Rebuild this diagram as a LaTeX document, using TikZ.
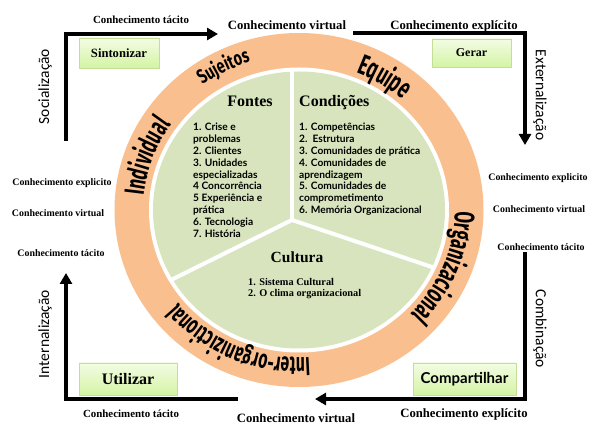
\documentclass[tikz,border=0pt]{standalone}
\usepackage{fontspec}
\setmainfont{Liberation Serif}
\newfontfamily\listfont{Lato}
\newfontfamily\ringfont[FakeStretch=0.6]{Fira Sans}
\newfontfamily\ringfontb[FakeStretch=0.72]{Fira Sans}
\newfontfamily\sidefont{Carlito}
\usetikzlibrary{arrows.meta,decorations.text,shadows}
\definecolor{ringorange}{RGB}{250,191,143}
\definecolor{sectgreen}{RGB}{215,228,189}
\definecolor{boxtop}{RGB}{243,252,228}
\definecolor{boxbot}{RGB}{212,244,164}
\definecolor{boxline}{RGB}{196,222,150}
\newcommand{\fsz}[1]{\fontsize{#1}{#1}\selectfont}
\begin{document}
\begin{tikzpicture}[x=1pt,y=1pt,
  flow/.style={line width=4pt, line join=miter},
  flowarrow/.style={flow, -{Triangle[length=11pt,width=12pt]}},
  knbig/.style={font=\bfseries\fsz{12.7}, inner sep=0pt, anchor=base},
  knmid/.style={font=\bfseries\fsz{10.9}, inner sep=0pt, anchor=base},
  knsmall/.style={font=\bfseries\fsz{9.9}, inner sep=0pt, anchor=base},
  phase/.style={font=\sidefont\fsz{15.5}, inner sep=0pt, anchor=center},
  actbox/.style={draw=boxline, line width=0.6pt, top color=boxtop, bottom color=boxbot,
    drop shadow={shadow xshift=1.2pt, shadow yshift=-1.2pt, opacity=0.35},
    inner sep=0pt, font=\bfseries},
  head/.style={font=\bfseries\fsz{16}, inner sep=0pt},
  listtxt/.style={font=\listfont\bfseries\fontsize{10.2}{11.8}\selectfont, align=left, anchor=north west, inner sep=0pt},
  cultxt/.style={font=\bfseries\fontsize{10.3}{11.6}\selectfont, align=left, anchor=north west, inner sep=0pt},
]
\useasboundingbox (0,0) rectangle (600,-438);
\fill[white] (0,0) rectangle (600,-438);

% ring and disk
\coordinate (C) at (299,-210);
\fill[ringorange] (C) ellipse [x radius=184.5pt, y radius=177pt];
\fill[white] (C) ellipse [x radius=150pt, y radius=142.5pt];
\fill[sectgreen] (C) ellipse [x radius=146pt, y radius=138.5pt];

% dividers
\coordinate (D) at (292,-220);
\coordinate (Dtop) at (292,-40);
\coordinate (Dleft) at (119.5,-305.5);
\coordinate (Dright) at (502,-290.5);
\begin{scope}
\clip (C) ellipse [x radius=149pt, y radius=141.5pt];
\draw[white, line width=4pt] (D) -- (Dtop);
\draw[white, line width=4pt] (D) -- (Dleft);
\draw[white, line width=4pt] (D) -- (Dright);
\end{scope}

% ring labels
\path[shift={(299,-210)}, decorate, decoration={text along path, text align=center,
  text={|\ringfontb\bfseries\fsz{20}|Sujeitos}}]
  (150:164pt and 155pt) arc[start angle=150, end angle=84, x radius=164pt, y radius=155pt];
\path[shift={(299,-210)}, decorate, decoration={text along path, text align=center,
  text={|\ringfont\bfseries\fsz{28.5}|Equipe}}]
  (92:156pt and 148pt) arc[start angle=92, end angle=24, x radius=156pt, y radius=148pt];
\path[shift={(299,-210)}, decorate, decoration={text along path, text align=center,
  text={|\ringfont\bfseries\fsz{28}|Individual}}]
  (200:156pt and 148pt) arc[start angle=200, end angle=120, x radius=156pt, y radius=148pt];
\path[shift={(299,-210)}, decorate, decoration={text along path, text align=center,
  text={|\ringfont\bfseries\fsz{28}|Organizacional}}]
  (25:156pt and 148pt) arc[start angle=25, end angle=-69, x radius=156pt, y radius=148pt];
\path[shift={(299,-210)}, decorate, decoration={text along path, text align=center,
  text={|\ringfont\bfseries\fsz{26}|Inter-organizictional}}]
  (-60:156pt and 148pt) arc[start angle=-60, end angle=-168, x radius=156pt, y radius=148pt];

% sector texts
\node[head, anchor=base] (fontes) at (250,-107) {Fontes};
\node[head, anchor=base west] (condicoes) at (299,-107) {Condições};
\node[head, anchor=base, font=\bfseries\fsz{15.5}] (cultura) at (297,-263) {Cultura};
\node[listtxt] (fontlist) at (193,-123.2) {1. Crise e\\problemas\\2. Clientes\\3. Unidades\\especializadas\\4 Concorrência\\5 Experiência e\\prática\\6. Tecnologia\\7. História};
\node[listtxt] (condlist) at (299,-123.2) {1. Competências\\2.\ \ Estrutura\\3. Comunidades de prática\\4. Comunidades de\\aprendizagem\\5. Comunidades de\\comprometimento\\6. Memória Organizacional};
\node[cultxt] (cultlist) at (248,-277.8) {1. Sistema Cultural\\2. O clima organizacional};

% action boxes
\node[actbox, minimum width=80pt, minimum height=30pt, font=\bfseries\fsz{12.6}] (sint) at (119,-53) {Sintonizar};
\node[actbox, minimum width=79pt, minimum height=28pt, font=\bfseries\fsz{12}] (gerar) at (471.5,-53) {Gerar};
\node[actbox, minimum width=98pt, minimum height=32pt, font=\bfseries\fsz{16}] (util) at (128,-379) {Utilizar};
\node[actbox, minimum width=103pt, minimum height=32pt, font=\listfont\bfseries\fsz{15}] (comp) at (464.5,-379) {Compartilhar};

% flow arrows
\coordinate (a1s) at (66,-141);
\coordinate (a1c) at (66,-34);
\coordinate (a1e) at (218,-34);
\draw[flowarrow] (a1s) -- (a1c) -- (a1e);
\coordinate (a2s) at (353,-33);
\coordinate (a2c) at (525,-33);
\coordinate (a2e) at (525,-145);
\draw[flowarrow] (a2s) -- (a2c) -- (a2e);
\coordinate (a3s) at (525,-252);
\coordinate (a3c) at (525,-399);
\coordinate (a3e) at (315,-399);
\draw[flowarrow] (a3s) -- (a3c) -- (a3e);
\coordinate (a4s) at (238,-399);
\coordinate (a4c) at (66,-399);
\coordinate (a4e) at (66,-273);
\draw[flowarrow] (a4s) -- (a4c) -- (a4e);

% phase labels
\node[phase, rotate=90] (soc) at (45,-86.5) {Socialização};
\node[phase, rotate=-90] (ext) at (540,-95) {Externalização};
\node[phase, rotate=-90] (comb) at (540,-329) {Combinação};
\node[phase, rotate=90] (intl) at (45,-334) {Internalização};

% knowledge labels
\node[knmid] (k1) at (141,-23.5) {Conhecimento tácito};
\node[knbig] (k2) at (287,-30) {Conhecimento virtual};
\node[knbig] (k3) at (454,-30) {Conhecimento explícito};
\node[knsmall] (k4) at (62,-185.5) {Conhecimento explicito};
\node[knsmall] (k5) at (58,-216.5) {Conhecimento virtual};
\node[knsmall] (k6) at (61,-256.5) {Conhecimento tácito};
\node[knsmall] (k7) at (538,-180.5) {Conhecimento explicito};
\node[knsmall] (k8) at (539,-212.5) {Conhecimento virtual};
\node[knsmall] (k9) at (541,-250.5) {Conhecimento tácito};
\node[knmid] (k10) at (131,-417.5) {Conhecimento tácito};
\node[knbig] (k11) at (296,-422) {Conhecimento virtual};
\node[knbig] (k12) at (464,-417.5) {Conhecimento explícito};
\end{tikzpicture}
\end{document}
